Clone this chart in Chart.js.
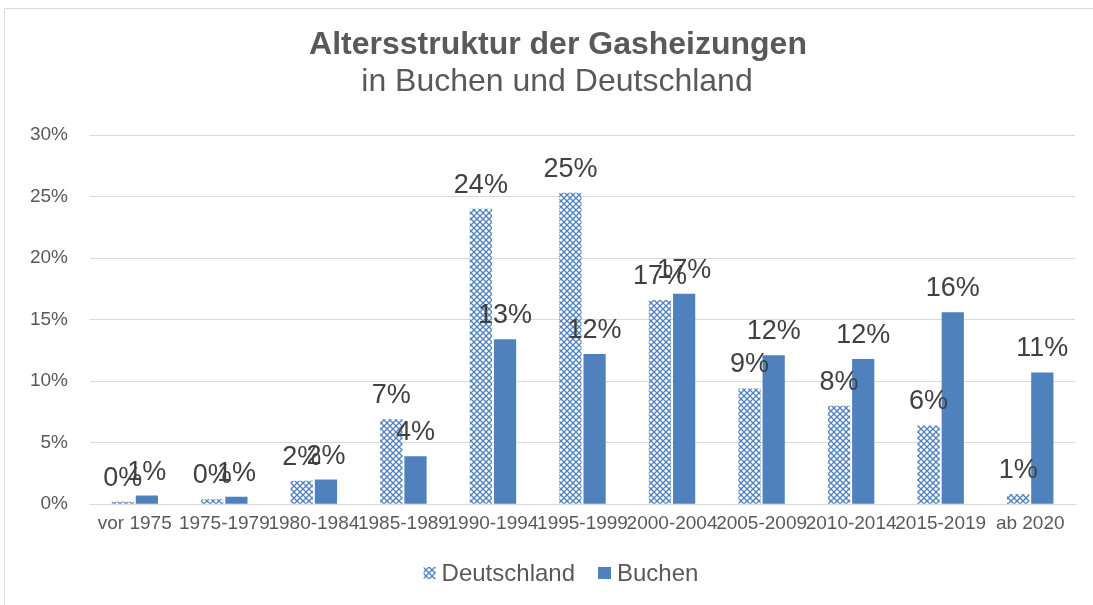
<!DOCTYPE html>
<html>
<head>
<meta charset="utf-8">
<script src="https://cdn.jsdelivr.net/npm/chart.js@4"></script>
<style>
  html, body { margin: 0; padding: 0; background: #fff; }
  #wrap { width: 1093px; height: 605px; position: relative; }
</style>
</head>
<body>
<div id="wrap"><canvas id="chart"></canvas></div>
<script>
const categories = ["vor 1975", "1975-1979", "1980-1984", "1985-1989", "1990-1994", "1995-1999",
  "2000-2004", "2005-2009", "2010-2014", "2015-2019", "ab 2020"];
const deutschland = [0.2, 0.4, 1.9, 6.9, 24.0, 25.3, 16.6, 9.4, 8.0, 6.4, 0.8];
const buchen = [0.7, 0.6, 2.0, 3.9, 13.4, 12.2, 17.1, 12.1, 11.8, 15.6, 10.7];
const yTicks = [0, 5, 10, 15, 20, 25, 30];

const titleText = "Altersstruktur der Gasheizungen";
const subtitleText = "in Buchen und Deutschland";

const blue = "#4f81bd";
const textGrey = "#595959";
const fontFam = "'Liberation Sans', Arial, sans-serif";

// checker pattern for Deutschland
function makePattern() {
  const c = document.createElement("canvas");
  c.width = 6; c.height = 6;
  const g = c.getContext("2d");
  g.fillStyle = "#fff";
  g.fillRect(0, 0, 6, 6);
  g.strokeStyle = blue;
  g.lineWidth = 1.3;
  g.beginPath();
  g.moveTo(0, 0); g.lineTo(6, 6);
  g.moveTo(6, 0); g.lineTo(0, 6);
  g.stroke();
  return g.createPattern(c, "repeat");
}
const pattern = makePattern();

const frame = {
  id: "frame",
  beforeDraw(chart) {
    const ctx = chart.ctx;
    ctx.save();
    ctx.strokeStyle = "#d9d9d9";
    ctx.lineWidth = 1;
    ctx.beginPath();
    ctx.moveTo(4.5, 605);
    ctx.lineTo(4.5, 8.5);
    ctx.lineTo(1093, 8.5);
    ctx.stroke();
    ctx.restore();
  }
};

// title + subtitle, centred on the whole chart frame like Excel does
const headings = {
  id: "headings",
  afterDraw(chart) {
    const ctx = chart.ctx;
    ctx.save();
    ctx.fillStyle = textGrey;
    ctx.textAlign = "center";
    ctx.textBaseline = "middle";
    ctx.font = "bold 32px " + fontFam;
    ctx.fillText(titleText, 558, 45);
    ctx.font = "32px " + fontFam;
    ctx.fillText(subtitleText, 557, 82);
    ctx.restore();
  }
};

const valueLabels = {
  id: "valueLabels",
  afterDatasetsDraw(chart) {
    const ctx = chart.ctx;
    ctx.save();
    ctx.font = "27px " + fontFam;
    ctx.fillStyle = "#404040";
    ctx.textAlign = "center";
    ctx.textBaseline = "bottom";
    chart.data.datasets.forEach((ds, i) => {
      chart.getDatasetMeta(i).data.forEach((bar, j) => {
        ctx.fillText(Math.round(ds.data[j]) + "%", bar.x, bar.y - 10);
      });
    });
    ctx.restore();
  }
};

// legend drawn by hand so spacing follows the Excel look
const bottomLegend = {
  id: "bottomLegend",
  afterDraw(chart) {
    const ctx = chart.ctx;
    const y = 573;
    ctx.save();
    ctx.font = "24px " + fontFam;
    ctx.textBaseline = "middle";
    ctx.fillStyle = textGrey;
    const items = chart.data.datasets;
    const w0 = ctx.measureText(items[0].label).width;
    const w1 = ctx.measureText(items[1].label).width;
    const total = 12 + 6 + w0 + 23 + 13 + 6 + w1;
    let x = 561 - total / 2;
    items.forEach((ds, i) => {
      const bw = i === 0 ? 12 : 13;
      ctx.fillStyle = ds.backgroundColor;
      ctx.fillRect(x, y - 6, bw, 12);
      x += bw + 6;
      ctx.fillStyle = textGrey;
      ctx.fillText(ds.label, x, y + 1);
      x += (i === 0 ? w0 : w1) + 23;
    });
    ctx.restore();
  }
};

new Chart(document.getElementById("chart"), {
  type: "bar",
  data: {
    labels: categories,
    datasets: [
      { label: "Deutschland", data: deutschland, backgroundColor: pattern },
      { label: "Buchen", data: buchen, backgroundColor: blue }
    ]
  },
  options: {
    responsive: true,
    maintainAspectRatio: false,
    animation: false,
    categoryPercentage: 0.54,
    barPercentage: 0.92,
    layout: { padding: { left: 20, right: 18, top: 135, bottom: 70 } },
    scales: {
      x: {
        grid: { display: false },
        border: { color: "#d9d9d9" },
        ticks: {
          padding: 0,
          autoSkip: false, maxRotation: 0, minRotation: 0,
          color: textGrey,
          font: { size: 19, family: fontFam }
        }
      },
      y: {
        min: 0, max: 30,
        afterBuildTicks(axis) { axis.ticks = yTicks.map(v => ({ value: v })); },
        afterFit(axis) { axis.width = 70; },
        grid: { color: "#d9d9d9", drawTicks: false },
        border: { display: false },
        ticks: {
          padding: 22,
          color: textGrey,
          font: { size: 19, family: fontFam },
          callback: v => v + "%"
        }
      }
    },
    plugins: {
      legend: { display: false },
      tooltip: { enabled: false }
    }
  },
  plugins: [frame, headings, valueLabels, bottomLegend]
});
</script>
</body>
</html>
